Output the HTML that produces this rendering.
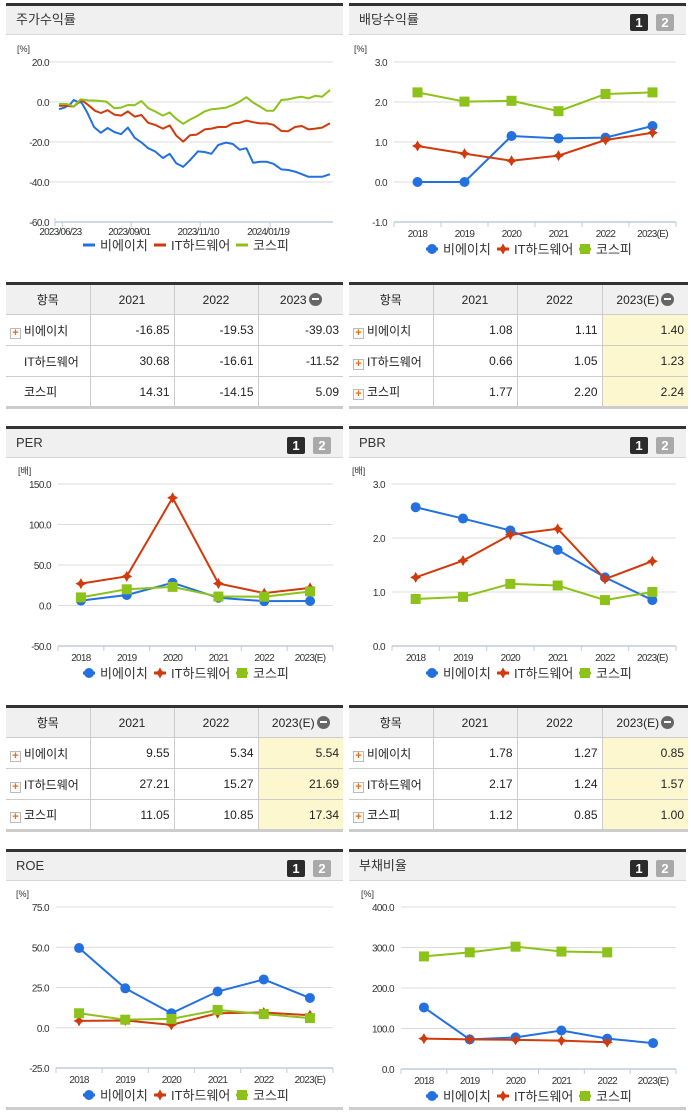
<!DOCTYPE html>
<html><head><meta charset="utf-8">
<style>
*{margin:0;padding:0;box-sizing:border-box}
body{width:691px;height:1115px;background:#fff;position:relative;font-family:"Liberation Sans","Noto Sans CJK KR",sans-serif;overflow:hidden;color:#222}
.hd{position:absolute;height:32px;background:#f0f0f0;border-top:3px solid #333;border-bottom:1px solid #d6d6d6;font-size:13px;line-height:28px;padding-left:10px;color:#333}
.bd{position:absolute;top:8px;width:18px;height:17px;border-radius:2px;color:#fff;font-size:13px;font-weight:bold;line-height:17px;text-align:center}
.b1{background:#2b2b2b}.b2{background:#a9a9a9}
table{position:absolute;border-collapse:collapse;font-size:12px;border-top:3px solid #333;border-bottom:3px solid #ccc}
td,th{border:1px solid #ccc;height:31px;font-weight:normal}
tr td:first-child,tr th:first-child{border-left:none}
tr td:last-child,tr th:last-child{border-right:none}
th{background:#f0f0f0;text-align:center}
td{text-align:right;padding-right:4px}
td.n{text-align:left;padding-left:4px}
.y{background:#fdf7d0}
.pl{display:inline-block;width:11px;height:11px;border:1px solid #bbb;background:#fafafa;color:#f36b0c;font-size:11px;line-height:9px;text-align:center;font-weight:bold;vertical-align:-1px;margin-right:3px}
.sp{display:inline-block;width:14px}
.mn{display:inline-block;width:13px;height:13px;border-radius:50%;background:#666;vertical-align:-2px;position:relative;margin-left:2px}
.mn:after{content:"";position:absolute;left:3px;top:5.5px;width:7px;height:2px;background:#fff}
svg{position:absolute;left:0;top:0}
</style></head><body>

<div class="hd" style="left:6px;top:3px;width:337px">주가수익률</div>
<div class="hd" style="left:349px;top:3px;width:337px">배당수익률<span class="bd b1" style="left:281px">1</span><span class="bd b2" style="left:307px">2</span></div>
<div class="hd" style="left:6px;top:426px;width:337px">PER<span class="bd b1" style="left:281px">1</span><span class="bd b2" style="left:307px">2</span></div>
<div class="hd" style="left:349px;top:426px;width:337px">PBR<span class="bd b1" style="left:281px">1</span><span class="bd b2" style="left:307px">2</span></div>
<div class="hd" style="left:6px;top:849px;width:337px">ROE<span class="bd b1" style="left:281px">1</span><span class="bd b2" style="left:307px">2</span></div>
<div class="hd" style="left:349px;top:849px;width:337px">부채비율<span class="bd b1" style="left:281px">1</span><span class="bd b2" style="left:307px">2</span></div>

<table style="left:6px;top:282px;width:337px">
<tr><th style="width:84px">항목</th><th style="width:84px">2021</th><th style="width:84px">2022</th><th>2023<span class="mn"></span></th></tr>
<tr><td class="n"><span class="pl">+</span>비에이치</td><td>-16.85</td><td>-19.53</td><td>-39.03</td></tr>
<tr><td class="n"><span class="sp"></span>IT하드웨어</td><td>30.68</td><td>-16.61</td><td>-11.52</td></tr>
<tr><td class="n"><span class="sp"></span>코스피</td><td>14.31</td><td>-14.15</td><td>5.09</td></tr>
</table>
<table style="left:349px;top:282px;width:339px">
<tr><th style="width:84px">항목</th><th style="width:84px">2021</th><th style="width:85px">2022</th><th>2023(E)<span class="mn"></span></th></tr>
<tr><td class="n"><span class="pl">+</span>비에이치</td><td>1.08</td><td>1.11</td><td class="y">1.40</td></tr>
<tr><td class="n"><span class="pl">+</span>IT하드웨어</td><td>0.66</td><td>1.05</td><td class="y">1.23</td></tr>
<tr><td class="n"><span class="pl">+</span>코스피</td><td>1.77</td><td>2.20</td><td class="y">2.24</td></tr>
</table>
<table style="left:6px;top:705px;width:337px">
<tr><th style="width:84px">항목</th><th style="width:84px">2021</th><th style="width:84px">2022</th><th>2023(E)<span class="mn"></span></th></tr>
<tr><td class="n"><span class="pl">+</span>비에이치</td><td>9.55</td><td>5.34</td><td class="y">5.54</td></tr>
<tr><td class="n"><span class="pl">+</span>IT하드웨어</td><td>27.21</td><td>15.27</td><td class="y">21.69</td></tr>
<tr><td class="n"><span class="pl">+</span>코스피</td><td>11.05</td><td>10.85</td><td class="y">17.34</td></tr>
</table>
<table style="left:349px;top:705px;width:339px">
<tr><th style="width:84px">항목</th><th style="width:84px">2021</th><th style="width:85px">2022</th><th>2023(E)<span class="mn"></span></th></tr>
<tr><td class="n"><span class="pl">+</span>비에이치</td><td>1.78</td><td>1.27</td><td class="y">0.85</td></tr>
<tr><td class="n"><span class="pl">+</span>IT하드웨어</td><td>2.17</td><td>1.24</td><td class="y">1.57</td></tr>
<tr><td class="n"><span class="pl">+</span>코스피</td><td>1.12</td><td>0.85</td><td class="y">1.00</td></tr>
</table>
<div style="position:absolute;left:6px;top:1107px;width:337px;height:3px;background:#ccc"></div>
<div style="position:absolute;left:349px;top:1107px;width:337px;height:3px;background:#ccc"></div>

<svg id="cv" width="691" height="1115"></svg>

<script>
// stock return (day index, value)
const stockDays = {
 bh:[0,5,10,13,17,20,25,31,37,43,49,55,61,67,73,79,85,92,98,104,110,116,123,129,135,141,148,154,160,166,172,178,184,190,197,203,209,215,221,227,233,240],
 it:[0,7,13,20,26,32,37,43,49,55,61,67,73,79,85,92,98,104,110,116,122,129,135,141,148,154,160,166,172,178,184,190,197,203,209,215,221,227,233,240],
 ks:[0,7,13,19,26,33,42,49,55,61,67,73,79,85,92,98,104,110,116,123,129,135,141,148,154,160,166,172,178,184,190,197,203,209,215,221,227,233,240]
};
const stockBH=[-3.6,-2.8,-1.1,1.0,0,-0.3,-5.2,-12.5,-15.4,-13.0,-15.0,-16.1,-12.8,-17.9,-20.2,-23.1,-24.7,-28.0,-25.9,-30.7,-32.4,-29.1,-24.7,-25.0,-25.9,-21.5,-20.3,-21.0,-23.9,-23.1,-30.4,-29.9,-29.9,-30.9,-33.7,-34.0,-34.8,-36.1,-37.4,-37.4,-37.4,-36.1];
const stockIT=[-1.9,-1.9,-2.3,1.0,-1.6,-4.4,-5.5,-4.1,-6.3,-6.8,-4.7,-7.3,-6.5,-10.4,-11.4,-13.3,-11.7,-16.9,-19.8,-16.6,-16.3,-13.7,-13.3,-12.5,-12.5,-10.7,-10.4,-9.3,-10.1,-10.7,-10.7,-11.4,-14.5,-14.6,-12.5,-12.0,-13.7,-13.3,-12.8,-10.6];
const stockKS=[-1.0,-1.0,-2.3,1.3,0.8,0.7,0.2,-3.1,-2.8,-1.5,-1.6,0.5,-3.1,-4.7,-6.8,-5.2,-8.5,-10.9,-8.8,-6.8,-4.7,-3.6,-3.3,-2.8,-1.5,0.2,2.4,-0.3,-2.3,-4.4,-4.4,1.0,1.3,2.1,2.6,1.8,3.1,2.6,6.0];
const stockTickDays=[3,64,125,187];
const stockTickLabels=["2023/06/23","2023/09/01","2023/11/10","2024/01/19"];
const stockYTicks=[20,0,-20,-40,-60];

const years=["2018","2019","2020","2021","2022","2023(E)"];
const divBH=[0,0,1.15,1.09,1.11,1.40], divIT=[0.90,0.71,0.53,0.66,1.05,1.23], divKS=[2.24,2.01,2.03,1.77,2.20,2.24];
const perBH=[6,13,28,9.55,5.34,5.54], perIT=[27,36,133,27.21,15.27,21.69], perKS=[10,20,23,11.05,10.85,17.34];
const pbrBH=[2.57,2.36,2.14,1.78,1.27,0.85], pbrIT=[1.27,1.58,2.06,2.17,1.24,1.57], pbrKS=[0.87,0.91,1.15,1.12,0.85,1.00];
const roeBH=[49.5,24.5,9,22.5,30,18.5], roeIT=[4.3,4.5,1.8,9,9.5,7.8], roeKS=[9,5,5.5,11,8.5,6];
const debtBH=[152,73,78,95,75,64], debtIT=[75,73,72,70,66,null], debtKS=[278,288,302,290,288,null];
const names=["비에이치","IT하드웨어","코스피"];
const BLUE="#2370e0",RED="#d03a0c",GREEN="#8cc21a";

const svg=document.getElementById('cv');
const NS="http://www.w3.org/2000/svg";
function mk(tag,at,parent){const e=document.createElementNS(NS,tag);for(const k in at)e.setAttribute(k,at[k]);(parent||svg).appendChild(e);return e;}
function txt(x,y,s,size,anchor,fill){const t=mk('text',{x:x,y:y,'font-size':size,'text-anchor':anchor||'start',fill:fill||'#333','font-family':'Liberation Sans, Noto Sans CJK KR, sans-serif'});t.textContent=s;return t;}

function marker(g,kind,x,y,color){
 let m;
 if(kind==='c') m=mk('circle',{cx:x,cy:y,r:5,fill:color},g);
 else if(kind==='d') m=mk('path',{d:`M${x} ${y-5.5}L${x+2} ${y-2}L${x+5.5} ${y}L${x+2} ${y+2}L${x} ${y+5.5}L${x-2} ${y+2}L${x-5.5} ${y}L${x-2} ${y-2}Z`,fill:color},g);
 else m=mk('rect',{x:x-5,y:y-5,width:10,height:10,fill:color},g);
 return m;
}

function legend(px,y,markers){
 const offs=[77,148,230],cols=[BLUE,RED,GREEN],kinds=['c','d','s'];
 for(let i=0;i<3;i++){
  const g=mk('g',{});
  
  
  mk('line',{x1:px+offs[i],x2:px+offs[i]+12,y1:y,y2:y,stroke:cols[i],'stroke-width':3},g);
  if(markers) marker(g,kinds[i],px+offs[i]+6,y,cols[i]);
  const t=txt(px+offs[i]+17,y+5,names[i],13,'start','#333');g.appendChild(t);
 }
}

function yearChart(c){
 const {x0,x1,yTop,yBot,max,min,ticks,unit,series,px}=c;
 const ys=v=>yTop+(max-v)/(max-min)*(yBot-yTop);
 const bw=(x1-x0)/years.length;
 const xs=i=>x0+bw*(i+0.5);
 ticks.forEach(t=>{
  if(t!==min){const l=mk('line',{x1:x0,x2:x1,y1:ys(t),y2:ys(t),stroke:'#dcdcdc'});}
  const lb=txt(x0-7,ys(t)+4,t.toFixed(1),10,'end','#333');lb.setAttribute('letter-spacing','-0.6');
  
 });
 const u=txt(x0-40,yTop-10,unit,9,'start','#333');
 const ax=mk('line',{x1:x0,x2:x1,y1:yBot,y2:yBot,stroke:'#c0cce0','stroke-width':1.5});
 for(let i=0;i<=years.length;i++) mk('line',{x1:x0+bw*i,x2:x0+bw*i,y1:yBot,y2:yBot+5,stroke:'#c0cce0'});
 years.forEach((y,i)=>{const t=txt(xs(i),yBot+15,y,10,'middle','#333');t.setAttribute('letter-spacing','-0.7');});
 series.forEach(s=>{
  let d='';s.vals.forEach((v,i)=>{if(v===null)return;d+=(d?'L':'M')+xs(i)+' '+ys(v);});
  const p=mk('path',{d:d,fill:'none',stroke:s.color,'stroke-width':2});
  
  s.vals.forEach((v,i)=>{if(v===null)return;const m=marker(svg,s.kind,xs(i),ys(v),s.color);});
 });
 legend(px,yBot+27,true);
}

// stock chart
(function(){
 const x0=55,x1=333,yTop=62,yBot=222,max=20,min=-60,d0=59,d1=330;
 const ys=v=>yTop+(max-v)/(max-min)*(yBot-yTop);
 const xs=d=>d0+d*(d1-d0)/240;
 stockYTicks.forEach(t=>{
  if(t!==min){const l=mk('line',{x1:49,x2:x1,y1:ys(t),y2:ys(t),stroke:'#dcdcdc'});}
  const lb=txt(49,ys(t)+4,t.toFixed(1),10,'end','#333');lb.setAttribute('letter-spacing','-0.6');
  
 });
 const u=txt(17,yTop-10,'[%]',9,'start','#333');
 mk('line',{x1:x0,x2:x0,y1:yBot-4,y2:yBot+4,stroke:'#c0cce0'});
 const ax=mk('line',{x1:x0,x2:x1,y1:yBot,y2:yBot,stroke:'#c0cce0','stroke-width':1.5});
 stockTickDays.forEach((d,i)=>{mk('line',{x1:xs(d),x2:xs(d),y1:yBot,y2:yBot+5,stroke:'#c0cce0'});
  const t=txt(xs(d)-2,yBot+13,stockTickLabels[i],10,'middle','#333');t.setAttribute('letter-spacing','-0.8');});
 [[stockBH,stockDays.bh,BLUE,'bh'],[stockIT,stockDays.it,RED,'it'],[stockKS,stockDays.ks,GREEN,'kospi']].forEach(([vals,days,col,n])=>{
  let d='';vals.forEach((v,i)=>{d+=(i?'L':'M')+xs(days[i]).toFixed(1)+' '+ys(v).toFixed(1);});
  const p=mk('path',{d:d,fill:'none',stroke:col,'stroke-width':2,'stroke-linejoin':'round'});
  
 });
 legend(6,245,false);
})();

const S=(a,b,c)=>[{vals:a,color:BLUE,kind:'c',name:'bh'},{vals:b,color:RED,kind:'d',name:'it'},{vals:c,color:GREEN,kind:'s',name:'kospi'}];
yearChart({px:349,x0:394,x1:676,yTop:62,yBot:222,max:3,min:-1,ticks:[3,2,1,0,-1],unit:'[%]',series:S(divBH,divIT,divKS)});
yearChart({px:6,x0:58,x1:333,yTop:484,yBot:646,max:150,min:-50,ticks:[150,100,50,0,-50],unit:'[배]',series:S(perBH,perIT,perKS)});
yearChart({px:349,x0:392,x1:676,yTop:484,yBot:646,max:3,min:0,ticks:[3,2,1,0],unit:'[배]',series:S(pbrBH,pbrIT,pbrKS)});
yearChart({px:6,x0:56,x1:333,yTop:907,yBot:1068,max:75,min:-25,ticks:[75,50,25,0,-25],unit:'[%]',series:S(roeBH,roeIT,roeKS)});
yearChart({px:349,x0:401,x1:676,yTop:907,yBot:1069,max:400,min:0,ticks:[400,300,200,100,0],unit:'[%]',series:S(debtBH,debtIT,debtKS)});
</script>
</body></html>
